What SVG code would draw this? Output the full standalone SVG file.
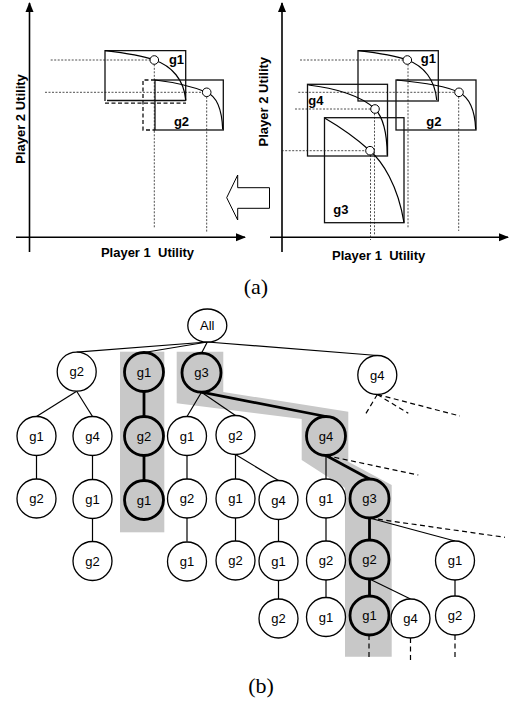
<svg xmlns="http://www.w3.org/2000/svg" width="510" height="706" viewBox="0 0 510 706">
  <defs>
    <marker id="ah" viewBox="0 0 10 10" refX="9" refY="5" markerWidth="10" markerHeight="10" markerUnits="userSpaceOnUse" orient="auto">
      <path d="M0,1 L10,5 L0,9 Z" fill="#000"/>
    </marker>
  </defs>
  <style>
    .axis { stroke:#000; stroke-width:1.6; fill:none; }
    .box { stroke:#111; stroke-width:1.3; fill:none; }
    .boxd { stroke:#111; stroke-width:1.3; fill:none; stroke-dasharray:4,2.5; }
    .crv { stroke:#000; stroke-width:1.2; fill:none; }
    .dot { stroke:#222; stroke-width:0.8; fill:none; stroke-dasharray:2,1.5; }
    .pt { stroke:#000; stroke-width:1; fill:#fff; }
    .gl { font-family:"Liberation Sans", Arial, sans-serif; font-weight:bold; font-size:13px; fill:#000; }
    .al { font-family:"Liberation Sans", Arial, sans-serif; font-weight:bold; font-size:13px; fill:#000; }
    .cap { font-family:"Liberation Serif", "Times New Roman", serif; font-size:22px; fill:#000; }
    .band { fill:#c8c8c8; stroke:none; }
    .n circle, .n ellipse { fill:#fff; stroke:#000; stroke-width:1.3; }
    .h circle { fill:#c8c8c8; stroke:#000; stroke-width:2.8; }
    .n text, .h text { font-family:"Liberation Sans", Arial, sans-serif; font-size:13px; text-anchor:middle; fill:#000; }
    .e { stroke:#000; stroke-width:1.2; fill:none; }
    .t { stroke:#000; stroke-width:2.8; fill:none; }
    .d { stroke:#000; stroke-width:1.2; fill:none; stroke-dasharray:5,3.5; }
  </style>

  <!-- (a) left: utility space after pruning g1/g2 -->
  <g id="panel-a-left">
    <line class="axis" x1="29.5" y1="252" x2="29.5" y2="3" marker-end="url(#ah)"/>
    <line class="axis" x1="16" y1="237.3" x2="245" y2="237.3" marker-end="url(#ah)"/>
    <line class="dot" x1="50.7" y1="60" x2="150" y2="60"/>
    <line class="dot" x1="45" y1="92.3" x2="202.4" y2="92.3"/>
    <line class="dot" x1="154.3" y1="64.3" x2="154.3" y2="228"/>
    <line class="dot" x1="206.7" y1="96.6" x2="206.7" y2="231.7"/>
    <!-- g1 region -->
    <polyline class="box" points="105,101 105,50.7 185.7,50.7 185.7,101"/>
    <line class="box" x1="107" y1="100.5" x2="185.7" y2="100.5"/>
    <line class="boxd" x1="105" y1="103.2" x2="186" y2="103.2"/>
    <path class="crv" d="M105,50.7 C125,53 143,56 154.3,60 C172,66 184,80 185.7,100"/>
    <!-- g2 region -->
    <rect class="box" x="155" y="80" width="68.3" height="50"/>
    <polyline class="boxd" points="155,80 143,80 143,130 155,130"/>
    <path class="crv" d="M155,80 C172,82 194,87 206.7,92.3 C218,97 222,112 222.7,129.3"/>
    <circle class="pt" cx="154.3" cy="60" r="4.3"/>
    <circle class="pt" cx="206.7" cy="92.3" r="4.3"/>
    <text class="gl" x="176.5" y="63.5" text-anchor="middle">g1</text>
    <text class="gl" x="181.5" y="125.5" text-anchor="middle">g2</text>
    <text class="al" transform="translate(24.5,119) rotate(-90)" text-anchor="middle">Player 2 Utility</text>
    <text class="al" x="147.5" y="257" text-anchor="middle">Player 1 &#160;Utility</text>
  </g>

  <!-- hollow arrow between the two plots -->
  <g id="arrow">
    <polygon points="226.7,197.7 237.7,175 237.7,187.7 269.5,187.7 269.5,208.3 237.7,208.3 237.7,220" fill="#fff" stroke="#000" stroke-width="1"/>
  </g>

  <!-- (a) right: utility space of g1..g4 -->
  <g id="panel-a-right">
    <line class="axis" x1="282" y1="252" x2="282" y2="3" marker-end="url(#ah)"/>
    <line class="axis" x1="270" y1="237.3" x2="508" y2="237.3" marker-end="url(#ah)"/>
    <line class="dot" x1="300" y1="60" x2="403" y2="60"/>
    <line class="dot" x1="298.3" y1="92.3" x2="454.7" y2="92.3"/>
    <line class="dot" x1="295" y1="109" x2="370.7" y2="109"/>
    <line class="dot" x1="281.7" y1="150.7" x2="365.7" y2="150.7"/>
    <line class="dot" x1="408" y1="64.3" x2="408" y2="228.3"/>
    <line class="dot" x1="458.7" y1="96.6" x2="458.7" y2="231"/>
    <line class="dot" x1="374.5" y1="113.3" x2="374.5" y2="235"/>
    <line class="dot" x1="370.5" y1="155" x2="370.5" y2="240"/>
    <rect class="box" x="358" y="50.7" width="80.3" height="50.3"/>
    <rect class="box" x="396" y="80" width="80" height="50"/>
    <rect class="box" x="307.5" y="84.3" width="80" height="71.7"/>
    <rect class="box" x="324.5" y="117.7" width="79.5" height="105"/>
    <path class="crv" d="M358.3,50.7 C378,53 396,56 407.3,60 C424,66 435,80 436.7,100"/>
    <path class="crv" d="M396.7,80 C418,82 446,86 459,92.3 C470,98 475,112 475.7,129.3"/>
    <path class="crv" d="M308.3,85 C335,88 362,96 375,109 C384,118 387,135 387.3,155"/>
    <path class="crv" d="M325,118.3 C340,127 358,140 370,150.7 C382,161 398,185 404,222.7"/>
    <circle class="pt" cx="407.3" cy="60" r="4.3"/>
    <circle class="pt" cx="459" cy="92.3" r="4.3"/>
    <circle class="pt" cx="375" cy="109" r="4.3"/>
    <circle class="pt" cx="370" cy="150.7" r="4.3"/>
    <text class="gl" x="428.3" y="62.5" text-anchor="middle">g1</text>
    <text class="gl" x="433.8" y="125.5" text-anchor="middle">g2</text>
    <text class="gl" x="315.8" y="104.5" text-anchor="middle">g4</text>
    <text class="gl" x="340.8" y="213.5" text-anchor="middle">g3</text>
    <text class="al" transform="translate(268,101.7) rotate(-90)" text-anchor="middle">Player 2 Utility</text>
    <text class="al" x="378.7" y="259.5" text-anchor="middle">Player 1 &#160;Utility</text>
  </g>

  <text class="cap" x="256" y="294" text-anchor="middle">(a)</text>

  <!-- (b) search tree: highlighted branches -->
  <g id="highlights">
    <rect class="band" x="120" y="351.7" width="44.3" height="180.6"/>
    <polygon class="band" points="176.7,351.7 223.3,351.7 223.3,392 348.3,411.7 348.3,461.7 391.7,485 391.7,656.7 345,656.7 345,488 301.7,460 301.7,419 176.7,403.3"/>
  </g>

  <g id="connectors">
    <!-- root -->
    <line class="e" x1="207.3" y1="342" x2="76.7" y2="352.2"/>
    <line class="e" x1="207.3" y1="342" x2="144" y2="352.5"/>
    <line class="e" x1="207.3" y1="342" x2="201.5" y2="353.2"/>
    <line class="e" x1="207.3" y1="342" x2="377.3" y2="355.5"/>
    <!-- level 1 -->
    <line class="e" x1="76.7" y1="391.2" x2="36.5" y2="416.5"/>
    <line class="e" x1="76.7" y1="391.2" x2="92.5" y2="416.5"/>
    <line class="t" x1="144" y1="391.5" x2="144" y2="416.5"/>
    <line class="e" x1="201.5" y1="392.2" x2="187" y2="416.5"/>
    <line class="e" x1="201.5" y1="392.2" x2="235.5" y2="415.5"/>
    <line class="t" x1="201.5" y1="392.2" x2="326" y2="416.5"/>
    <line class="d" x1="377.3" y1="394.5" x2="365" y2="415"/>
    <line class="d" x1="377.3" y1="394.5" x2="408.3" y2="413.3"/>
    <line class="d" x1="377.3" y1="394.5" x2="460" y2="416"/>
    <!-- level 2 -->
    <line class="e" x1="36.5" y1="455.5" x2="36.5" y2="479"/>
    <line class="e" x1="92.5" y1="455.5" x2="92.5" y2="479.5"/>
    <line class="t" x1="144" y1="455.5" x2="144" y2="480.5"/>
    <line class="e" x1="187" y1="455.5" x2="187" y2="479"/>
    <line class="e" x1="235.5" y1="454.5" x2="235.5" y2="479"/>
    <line class="e" x1="235.5" y1="454.5" x2="278.5" y2="480.5"/>
    <line class="e" x1="326" y1="455.5" x2="326" y2="479"/>
    <line class="t" x1="326" y1="455.5" x2="369.5" y2="479"/>
    <line class="d" x1="326" y1="455.5" x2="418.3" y2="475"/>
    <!-- level 3 -->
    <line class="e" x1="92.5" y1="519" x2="92.5" y2="541"/>
    <line class="e" x1="187" y1="518" x2="187" y2="541.5"/>
    <line class="e" x1="235.5" y1="518" x2="235.5" y2="541"/>
    <line class="e" x1="278.5" y1="519.5" x2="278.5" y2="541.5"/>
    <line class="e" x1="326" y1="518" x2="326" y2="541"/>
    <line class="t" x1="369.5" y1="518" x2="369.5" y2="540"/>
    <line class="e" x1="369.5" y1="518" x2="455" y2="541"/>
    <line class="d" x1="369.5" y1="518" x2="505" y2="537.3"/>
    <!-- level 4 -->
    <line class="e" x1="278.5" y1="580.5" x2="278.5" y2="599"/>
    <line class="e" x1="326" y1="580" x2="326" y2="597.5"/>
    <line class="t" x1="369.5" y1="579" x2="369.5" y2="596"/>
    <line class="e" x1="369.5" y1="579" x2="410.5" y2="599"/>
    <line class="e" x1="455" y1="580" x2="455" y2="596"/>
    <!-- level 5 -->
    <line class="d" x1="369" y1="635" x2="369" y2="660"/>
    <line class="d" x1="410.5" y1="638" x2="410.5" y2="663"/>
    <line class="d" x1="455" y1="635" x2="455" y2="660"/>
  </g>

  <g id="n-all" class="n"><ellipse cx="207.3" cy="325.5" rx="19.5" ry="16.5"/><text x="207.3" y="330">All</text></g>

  <g id="n-1-g2" class="n"><circle cx="76.7" cy="371.7" r="19.5"/><text x="76.7" y="376.2">g2</text></g>
  <g id="n-1-g1" class="h"><circle cx="144" cy="372" r="19.5"/><text x="144" y="376.5">g1</text></g>
  <g id="n-1-g3" class="h"><circle cx="201.5" cy="372.7" r="19.5"/><text x="201.5" y="377.2">g3</text></g>
  <g id="n-1-g4" class="n"><circle cx="377.3" cy="375" r="19.5"/><text x="377.3" y="379.5">g4</text></g>

  <g id="n-2-a" class="n"><circle cx="36.5" cy="436" r="19.5"/><text x="36.5" y="440.5">g1</text></g>
  <g id="n-2-b" class="n"><circle cx="92.5" cy="436" r="19.5"/><text x="92.5" y="440.5">g4</text></g>
  <g id="n-2-c" class="h"><circle cx="144" cy="436" r="19.5"/><text x="144" y="440.5">g2</text></g>
  <g id="n-2-d" class="n"><circle cx="187" cy="436" r="19.5"/><text x="187" y="440.5">g1</text></g>
  <g id="n-2-e" class="n"><circle cx="235.5" cy="435" r="19.5"/><text x="235.5" y="439.5">g2</text></g>
  <g id="n-2-f" class="h"><circle cx="326" cy="436" r="19.5"/><text x="326" y="440.5">g4</text></g>

  <g id="n-3-a" class="n"><circle cx="36.5" cy="498.5" r="19.5"/><text x="36.5" y="503">g2</text></g>
  <g id="n-3-b" class="n"><circle cx="92.5" cy="499" r="19.5"/><text x="92.5" y="503.5">g1</text></g>
  <g id="n-3-c" class="h"><circle cx="144" cy="500" r="19.5"/><text x="144" y="504.5">g1</text></g>
  <g id="n-3-d" class="n"><circle cx="187" cy="498.5" r="19.5"/><text x="187" y="503">g2</text></g>
  <g id="n-3-e" class="n"><circle cx="235.5" cy="498.5" r="19.5"/><text x="235.5" y="503">g1</text></g>
  <g id="n-3-f" class="n"><circle cx="278.5" cy="500" r="19.5"/><text x="278.5" y="504.5">g4</text></g>
  <g id="n-3-g" class="n"><circle cx="326" cy="498.5" r="19.5"/><text x="326" y="503">g1</text></g>
  <g id="n-3-h" class="h"><circle cx="369.5" cy="498.5" r="19.5"/><text x="369.5" y="503">g3</text></g>

  <g id="n-4-a" class="n"><circle cx="92.5" cy="561" r="19.5"/><text x="92.5" y="565.5">g2</text></g>
  <g id="n-4-b" class="n"><circle cx="187" cy="561.5" r="19.5"/><text x="187" y="566">g1</text></g>
  <g id="n-4-c" class="n"><circle cx="235.5" cy="560.5" r="19.5"/><text x="235.5" y="565">g2</text></g>
  <g id="n-4-d" class="n"><circle cx="278.5" cy="561" r="19.5"/><text x="278.5" y="565.5">g1</text></g>
  <g id="n-4-e" class="n"><circle cx="326" cy="560.5" r="19.5"/><text x="326" y="565">g2</text></g>
  <g id="n-4-f" class="h"><circle cx="369.5" cy="559.5" r="19.5"/><text x="369.5" y="564">g2</text></g>
  <g id="n-4-g" class="n"><circle cx="455" cy="560.5" r="19.5"/><text x="455" y="565">g1</text></g>

  <g id="n-5-a" class="n"><circle cx="278.5" cy="618.5" r="19.5"/><text x="278.5" y="623">g2</text></g>
  <g id="n-5-b" class="n"><circle cx="326" cy="617" r="19.5"/><text x="326" y="621.5">g1</text></g>
  <g id="n-5-c" class="h"><circle cx="369.5" cy="615.5" r="19.5"/><text x="369.5" y="620">g1</text></g>
  <g id="n-5-d" class="n"><circle cx="410.5" cy="618.5" r="19.5"/><text x="410.5" y="623">g4</text></g>
  <g id="n-5-e" class="n"><circle cx="455" cy="615.5" r="19.5"/><text x="455" y="620">g2</text></g>

  <text class="cap" x="261" y="693" text-anchor="middle">(b)</text>
</svg>
